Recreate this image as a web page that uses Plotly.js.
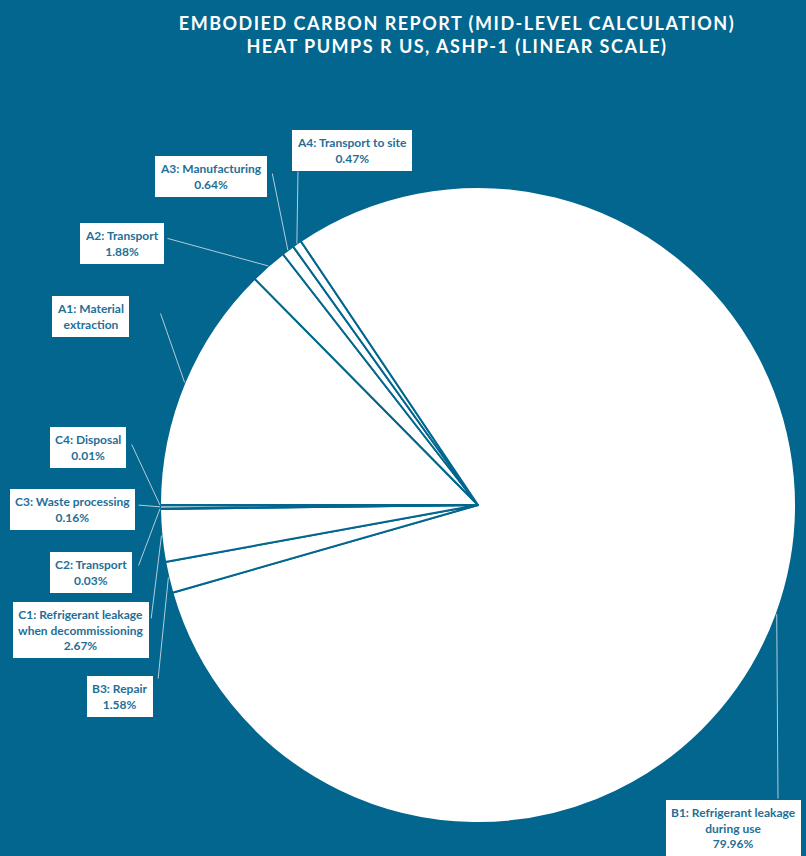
<!DOCTYPE html>
<html>
<head>
<meta charset="utf-8">
<script src="https://cdn.plot.ly/plotly-3.0.1.min.js"></script>
<style>
html,body{margin:0;padding:0;background:#02668f;}
#chart{width:806px;height:856px;}
.gtitle{letter-spacing:1.5px;}
</style>
</head>
<body>
<div id="chart"></div>
<script>
// ---- data ----
const categories = [
  "A1: Material extraction",
  "A2: Transport",
  "A3: Manufacturing",
  "A4: Transport to site",
  "B1: Refrigerant leakage during use",
  "B3: Repair",
  "C1: Refrigerant leakage when decommissioning",
  "C2: Transport",
  "C3: Waste processing",
  "C4: Disposal"
];
const percentages = [12.60, 1.88, 0.64, 0.47, 79.96, 1.58, 2.67, 0.03, 0.16, 0.01];
const labelTexts = [
  "A1: Material<br>extraction",
  "A2: Transport<br>1.88%",
  "A3: Manufacturing<br>0.64%",
  "A4: Transport to site<br>0.47%",
  "B1: Refrigerant leakage<br>during use<br>79.96%",
  "B3: Repair<br>1.58%",
  "C1: Refrigerant leakage<br>when decommissioning<br>2.67%",
  "C2: Transport<br>0.03%",
  "C3: Waste processing<br>0.16%",
  "C4: Disposal<br>0.01%"
];

// ---- layout settings (positions/styles) ----
const W = 806, H = 856;
const BG = "#02668f";
const TXT = "#1f6f98";
const LEADER = "#b3ccd9";
const center = {x: 478, y: 505}, radius = 318;
const rotation = 270;
// label box centres in pixels
const labelPos = [
  [90, 316], [122, 243], [211, 176], [352, 151], [733, 828],
  [120, 696], [81, 630], [91, 572], [72, 509], [88, 447]
];
// where each leader line leaves its label box, in pixels
const leaderStart = [
  [160, 312], [166, 238], [272, 172], [298, 170], [778, 800],
  [158, 680], [151, 620], [138, 567], [137, 505], [131, 443]
];

const domain = {
  x: [(center.x - radius) / W, (center.x + radius) / W],
  y: [(H - center.y - radius) / H, (H - center.y + radius) / H]
};

const total = percentages.reduce((a, b) => a + b, 0);
let cum = 0;
const annotations = [];
percentages.forEach((v, i) => {
  const midFrac = (cum + v / 2) / total;
  cum += v;
  const ang = (rotation + 360 * midFrac) * Math.PI / 180;
  const hx = center.x + radius * Math.sin(ang);
  const hy = center.y - radius * Math.cos(ang);
  // leader line
  annotations.push({
    x: hx / W, y: 1 - hy / H, xref: "paper", yref: "paper",
    ax: leaderStart[i][0] - hx, ay: leaderStart[i][1] - hy,
    text: "", showarrow: true, arrowhead: 0, arrowwidth: 1, arrowcolor: LEADER,
    standoff: 0, startstandoff: 0
  });
});
percentages.forEach((v, i) => {
  // label box
  annotations.push({
    x: labelPos[i][0] / W, y: 1 - labelPos[i][1] / H, xref: "paper", yref: "paper",
    xanchor: "center", yanchor: "middle",
    text: "<b>" + labelTexts[i] + "</b>",
    showarrow: false,
    bgcolor: "white", bordercolor: "white", borderwidth: 1, borderpad: 4,
    font: {family: "Lato, 'Open Sans', sans-serif", size: 12, color: TXT},
    align: "center"
  });
});

const trace = {
  type: "pie",
  labels: categories,
  values: percentages,
  sort: false,
  direction: "clockwise",
  rotation: rotation,
  domain: domain,
  textinfo: "none",
  hoverinfo: "label+percent",
  marker: {
    colors: categories.map(() => "white"),
    line: {color: BG, width: 2}
  }
};

const layout = {
  width: W, height: H,
  paper_bgcolor: BG,
  plot_bgcolor: BG,
  margin: {l: 0, r: 0, t: 0, b: 0},
  showlegend: false,
  title: {
    text: "EMBODIED CARBON REPORT (MID-LEVEL CALCULATION)<br>HEAT PUMPS R US, ASHP-1 (LINEAR SCALE)",
    x: 457 / W, xanchor: "center",
    y: 1 - 30 / H, yanchor: "top",
    font: {family: "Lato, 'Open Sans', sans-serif", size: 18, color: "white", weight: "bold"}
  },
  annotations: annotations
};

Plotly.newPlot("chart", [trace], layout, {displayModeBar: false});
</script>
</body>
</html>
